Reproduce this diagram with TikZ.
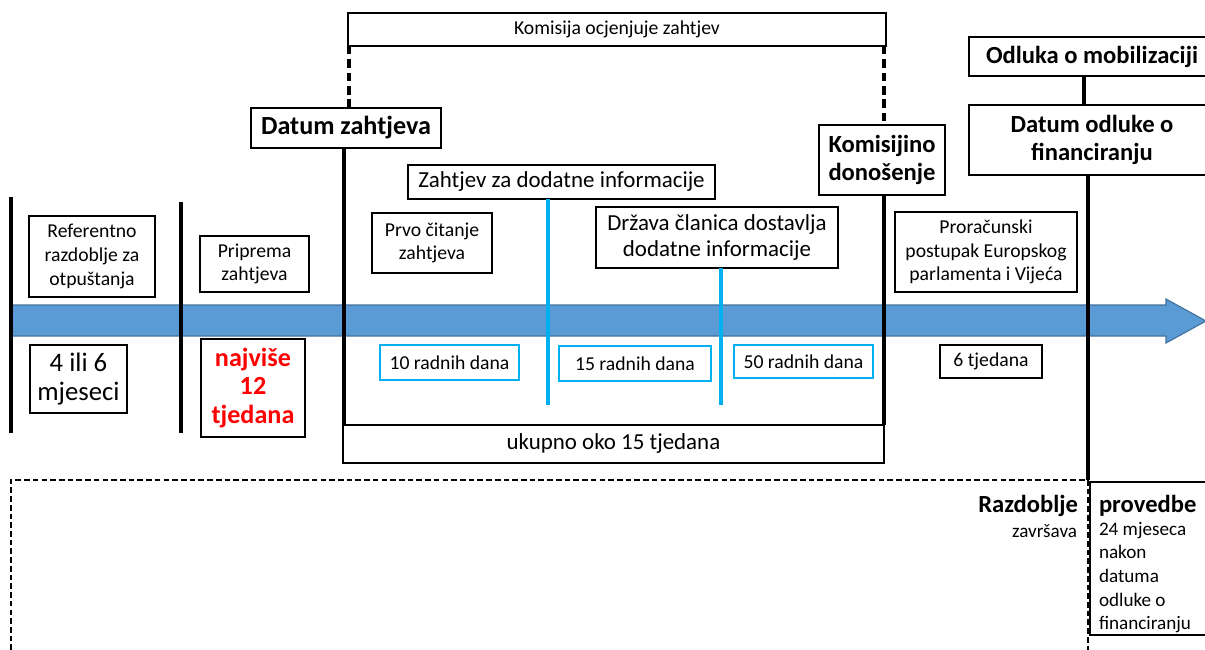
\documentclass[tikz,border=0pt]{standalone}
\usepackage{fontspec}
\setmainfont{Carlito}
\begin{document}
\begin{tikzpicture}[x=0.025cm,y=-0.025cm,
  every node/.style={inner sep=0pt,outer sep=0pt,align=center},
  fS/.style={font=\fontsize{14pt}{16.8pt}\selectfont},
  fM/.style={font=\fontsize{16.3pt}{18.6pt}\selectfont},
  fB/.style={font=\fontsize{17.5pt}{19.8pt}\selectfont\bfseries},
  fBB/.style={font=\fontsize{18.6pt}{20pt}\selectfont\bfseries},
  fL/.style={font=\fontsize{19pt}{20.8pt}\selectfont},
  bbox/.style={draw=black,line width=1.4pt,fill=white},
  cbox/.style={draw=cyanline,line width=1.4pt,fill=white},
  vline/.style={line width=2.2pt,black},
  cline/.style={line width=2.2pt,cyanline},
  dline/.style={line width=2.2pt,black,dash pattern=on 6pt off 3.5pt},
  dline2/.style={line width=1.3pt,black,dash pattern=on 4pt off 2.2pt}]
\definecolor{cyanline}{HTML}{00B0F0}
\definecolor{arrowblue}{HTML}{5B9BD5}
\definecolor{arrowedge}{HTML}{41719C}
\newcommand\pbox[7]{\node[#6, minimum width={(#4-#2)*0.025cm}, minimum height={(#5-#3)*0.025cm}] (#1) at ({(#2+#4)/2},{(#3+#5)/2}) {#7};}
\useasboundingbox (0,0) rectangle (1205,650);
% blue arrow
\fill[arrowblue,draw=arrowedge,line width=0.8pt] (10,305) -- (1166,305) -- (1166,299) -- (1206,321) -- (1166,343) -- (1166,336) -- (10,336) -- cycle;
% vertical lines left
\coordinate (l1t) at (11,197); \coordinate (l1b) at (11,433);
\coordinate (l2t) at (181,202); \coordinate (l2b) at (181,433);
\draw[vline] (l1t) -- (l1b);
\draw[vline] (l2t) -- (l2b);
% boxes
\pbox{ref}{29}{216}{155}{297}{bbox,fS}{Referentno\\razdoblje za\\otpuštanja}
\pbox{prip}{200}{236}{309}{292}{bbox,fS}{Priprema\\zahtjeva}
\pbox{mj}{30}{345}{127}{413}{bbox,fL}{4 ili 6\\mjeseci}
\pbox{naj}{201}{339}{305}{437}{bbox,fBB,text=red}{najviše\\12\\tjedana}
\pbox{kom}{348}{13}{886}{46}{bbox,fS}{Komisija ocjenjuje zahtjev}
\pbox{datum}{251}{108}{441}{148}{bbox,fBB}{Datum zahtjeva}
\pbox{kdon}{819}{125}{945}{195}{bbox,fB}{Komisijino\\donošenje}
\pbox{zdi}{408}{165}{715}{199}{bbox,fM}{Zahtjev za dodatne informacije}
\pbox{prvo}{372}{213}{492}{273}{bbox,fS}{Prvo čitanje\\zahtjeva}
\pbox{drz}{596}{207}{838}{268}{bbox,fM}{Država članica dostavlja\\dodatne informacije}
\pbox{d10}{380}{345}{519}{380}{cbox,fS}{10 radnih dana}
\pbox{d15}{559}{346}{711}{381}{cbox,fS}{15 radnih dana}
\pbox{d50}{734}{345}{873}{378}{cbox,fS}{50 radnih dana}
\pbox{uk}{343}{425}{884}{463}{bbox,fM}{ukupno oko 15 tjedana}
\pbox{pror}{895}{212}{1077}{292}{bbox,fS}{Proračunski\\postupak Europskog\\parlamenta i Vijeća}
\pbox{t6}{940}{345}{1042}{378}{bbox,fS}{6 tjedana}
\pbox{odl}{969}{37}{1215}{76}{bbox,fB}{Odluka o mobilizaciji}
\pbox{dof}{969}{105}{1215}{175}{bbox,fB}{Datum odluke o\\financiranju}
% connectors
\draw[dline] (kom.south west) ++(1,0) coordinate (kd1) -- (kd1 |- datum.north);
\draw[dline] (kom.south east) ++(-2,0) coordinate (kd2) -- (kd2 |- kdon.north);
\draw[vline] (uk.north west) ++(1,0) coordinate (u1) -- (u1 |- datum.south);
\draw[vline] (uk.north east) coordinate (u2) -- (u2 |- kdon.south);
\coordinate (b1) at (548,405); \coordinate (b2) at (721,405);
\draw[cline] (b1 |- zdi.south) -- (b1);
\draw[cline] (b2 |- drz.south) -- (b2);
\coordinate (m1) at (1084,76);
\draw[vline] (m1 |- odl.south) -- (m1 |- dof.north);
\coordinate (fin) at (1088,480);
\draw[vline] (fin |- dof.south) -- (fin);
% implementation period
\coordinate (dl) at (11,650);
\coordinate (dtl) at (11,480);
\draw[dline2] (dl) -- (dtl) -- (fin);
\draw[bbox,fill=none] (1215,482) -- (1090,482) -- (1090,635) -- (1215,635);
\draw[dline2] (fin) -- (1088,650);
\node[anchor=north east,align=right,fB] (razd) at (1078,495) {Razdoblje};
\node[anchor=north east,align=right,font=\fontsize{13.6pt}{17pt}\selectfont] (zav) at (1077,525) {završava};
\node[anchor=north west,align=left,fB] (prov) at (1099,495) {provedbe};
\node[anchor=north west,align=left,font=\fontsize{13.6pt}{16.8pt}\selectfont] (pt) at (1099,522) {24 mjeseca\\nakon\\datuma\\odluke o\\financiranju};
\end{tikzpicture}
\end{document}
